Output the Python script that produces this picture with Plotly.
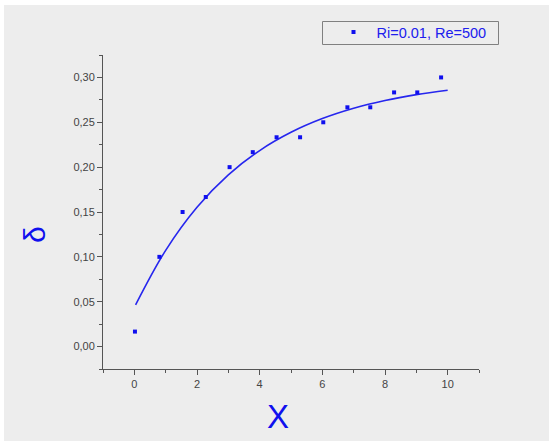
import plotly.graph_objects as go

# Data
x_data = [0.02, 0.80, 1.54, 2.28, 3.04, 3.78, 4.54, 5.29, 6.03, 6.80, 7.53, 8.29, 9.03, 9.79]
y_data = [0.0167, 0.100, 0.150, 0.1667, 0.200, 0.2167, 0.2333, 0.2333, 0.250, 0.2667, 0.2667, 0.2833, 0.2833, 0.300]

# Fitted curve
x_fit = [0.04, 1, 2, 3, 4, 5, 6, 7, 8, 9, 10]
y_fit = [0.0465, 0.1073, 0.1553, 0.1914, 0.2185, 0.2388, 0.2541, 0.2656, 0.2743, 0.2808, 0.2857]

x_ticks = [0, 2, 4, 6, 8, 10]
x_ticktext = ["0", "2", "4", "6", "8", "10"]
y_ticks = [0.00, 0.05, 0.10, 0.15, 0.20, 0.25, 0.30]
y_ticktext = ["0,00", "0,05", "0,10", "0,15", "0,20", "0,25", "0,30"]

series_name = "Ri=0.01, Re=500"

W, H = 549, 441
L, R, T, B = 103, 70, 55, 72
pw, ph = W - L - R, H - T - B

def px_x(p):
    return (p - L) / pw

def px_y(p):
    return (H - B - p) / ph

fig = go.Figure()
fig.add_trace(go.Scatter(
    x=x_fit, y=y_fit, mode="lines", line=dict(color="#2626ee", width=1.6, shape="spline"),
    showlegend=False, hoverinfo="skip"))
fig.add_trace(go.Scatter(
    x=x_data, y=y_data, mode="markers", name=series_name,
    marker=dict(symbol="square", size=4, color="#1010ee", line=dict(width=0))))

axis_common = dict(
    showgrid=False, zeroline=False, showline=True, linecolor="#555555", linewidth=1,
    ticks="outside", ticklen=5, tickwidth=1, tickcolor="#555555",
    tickfont=dict(family="Liberation Sans, Arial, sans-serif", size=11, color="#444444"),
    mirror=False,
)

fig.update_xaxes(range=[-1, 11], tickvals=x_ticks, ticktext=x_ticktext,
                 minor=dict(dtick=1, tick0=-1, ticks="outside", ticklen=3, tickcolor="#555555"),
                 **axis_common)
fig.update_yaxes(range=[-0.025, 0.325], tickvals=y_ticks, ticktext=y_ticktext,
                 minor=dict(dtick=0.025, tick0=-0.025, ticks="outside", ticklen=3, tickcolor="#555555"),
                 **axis_common)

# grey background panel (white strip at top/left)
fig.add_shape(type="rect", xref="paper", yref="paper",
              x0=px_x(4), x1=px_x(W + 2), y0=px_y(H + 2), y1=px_y(5),
              fillcolor="#ededed", line=dict(width=0), layer="below")

# legend frame
fig.add_shape(type="rect", xref="paper", yref="paper",
              x0=px_x(322.5), x1=px_x(498.5), y0=px_y(44.5), y1=px_y(21.5),
              fillcolor="rgba(0,0,0,0)", line=dict(width=1, color="#808080"), layer="above")

# axis titles
fig.add_annotation(text="X", xref="paper", yref="paper", x=px_x(277.5), y=px_y(416),
                   showarrow=False, xanchor="center", yanchor="middle",
                   font=dict(family="Liberation Sans, Arial, sans-serif", size=33, color="#1010ee"))
fig.add_annotation(text="δ", xref="paper", yref="paper", x=px_x(34), y=px_y(235),
                   showarrow=False, xanchor="center", yanchor="middle", textangle=-90,
                   font=dict(family="Liberation Sans, Arial, sans-serif", size=30, color="#1010ee"))

fig.update_layout(
    width=W, height=H,
    margin=dict(l=L, r=R, t=T, b=B, autoexpand=False),
    paper_bgcolor="white", plot_bgcolor="rgba(0,0,0,0)",
    legend=dict(xref="container", yref="container", x=322.5 / W, y=1 - 16 / H,
                xanchor="left", yanchor="top", borderwidth=0,
                bgcolor="rgba(0,0,0,0)", indentation=8, itemwidth=36,
                font=dict(family="Liberation Sans, Arial, sans-serif", size=14.5, color="#2020ee")),
)

fig.write_html("out.html")
